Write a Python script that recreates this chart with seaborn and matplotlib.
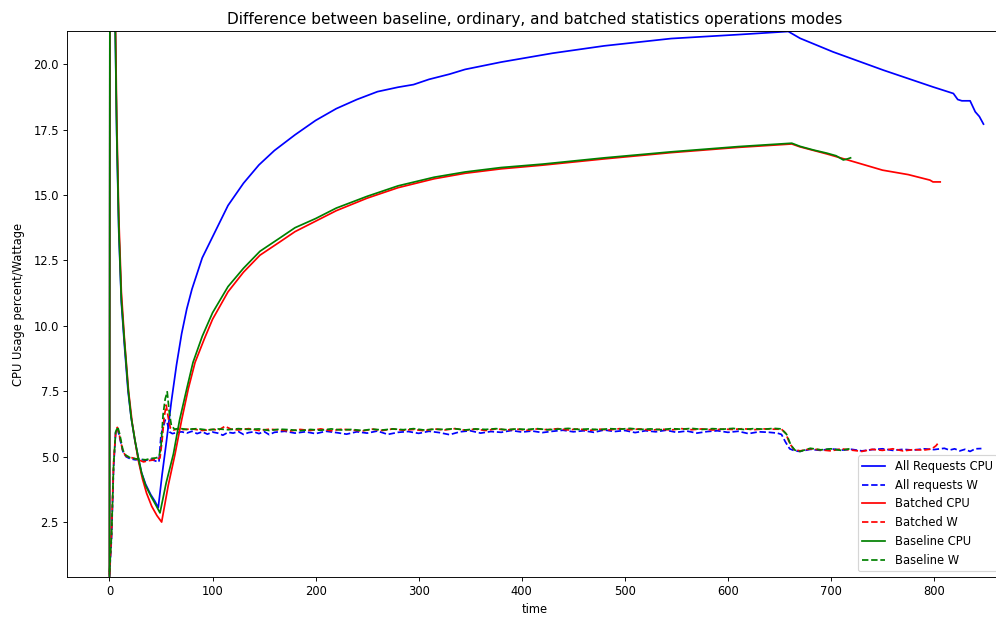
import matplotlib
matplotlib.use("Agg")
import matplotlib.pyplot as plt
import seaborn as sns

# ---- CPU series (time, value) ----
all_cpu_t = [0, 1, 3, 5, 7, 9, 11.5, 14.4, 18, 21, 24.7, 28, 31, 35, 40, 44, 47.3,
             51, 55, 60, 65, 70, 75, 80, 90, 100, 115, 130, 145, 160, 180, 200, 220, 240, 260,
             280, 295, 310, 330, 345, 380, 430, 480, 545, 610, 658.6, 670, 702, 751, 799, 818.8,
             823, 827, 835, 840, 844, 848]
all_cpu_v = [0.0, 60.0, 35.0, 23.0, 17.3, 13.6, 10.9, 9.3, 7.5, 6.5, 5.6, 4.95, 4.4, 3.95, 3.55, 3.3, 3.05,
             4.3, 5.5, 7.1, 8.5, 9.7, 10.65, 11.4, 12.6, 13.4, 14.6, 15.45, 16.15, 16.7, 17.3, 17.85, 18.3,
             18.65, 18.95, 19.12, 19.22, 19.42, 19.62, 19.8, 20.08, 20.42, 20.7, 20.98, 21.13, 21.25,
             20.99, 20.47, 19.77, 19.13, 18.88, 18.65, 18.6, 18.6, 18.18, 18.0, 17.71]

batched_cpu_t = [0, 1, 3, 5, 7, 9, 11.5, 14.5, 18.5, 22, 25, 28, 32, 36, 41, 46, 50.6,
                 57, 63.6, 70, 76.5, 83, 92, 100, 115, 130, 146, 165, 180, 200, 220, 250, 280,
                 315, 345, 380, 420, 480, 545, 610, 662, 670, 696, 718, 750, 775, 796, 799, 806]
batched_cpu_v = [0.0, 60.0, 36.0, 24.0, 18.0, 14.2, 11.3, 9.5, 7.5, 6.3, 5.55, 4.85, 4.15, 3.6, 3.1, 2.75, 2.5,
                 3.9, 5.1, 6.4, 7.6, 8.6, 9.5, 10.25, 11.3, 12.05, 12.7, 13.2, 13.6, 14.0, 14.4, 14.88, 15.28,
                 15.62, 15.83, 16.0, 16.14, 16.38, 16.62, 16.82, 16.95, 16.84, 16.57, 16.32, 15.95, 15.78,
                 15.57, 15.5, 15.5]

baseline_cpu_t = [0, 1, 3, 5, 7, 9, 11.5, 14.4, 18.2, 21, 24.7, 28, 31.2, 35, 40, 44, 49,
                  55, 62, 68, 75, 81, 90, 100, 115, 130, 146, 165, 180, 200, 220, 250, 280,
                  315, 345, 380, 420, 480, 545, 610, 662, 670, 683, 696, 705, 712, 716, 719]
baseline_cpu_v = [0.0, 60.0, 35.0, 23.0, 17.5, 13.8, 11.0, 9.45, 7.54, 6.5, 5.63, 4.95, 4.37, 3.9, 3.5, 3.22, 2.85,
                  4.0, 5.1, 6.4, 7.6, 8.6, 9.6, 10.5, 11.5, 12.2, 12.85, 13.35, 13.75, 14.1, 14.5, 14.95, 15.35,
                  15.68, 15.88, 16.05, 16.18, 16.42, 16.65, 16.85, 16.98, 16.86, 16.72, 16.6, 16.5, 16.34,
                  16.38, 16.42]

# ---- Wattage series ----
all_w_t = [0, 2, 4, 6, 8, 10, 13, 16, 20, 25, 30, 35, 40, 45, 48, 50, 52, 54, 56, 58, 61, 65,
           70, 75, 80, 85, 90, 95, 100, 105, 110, 115, 120, 125, 130, 135, 140, 145, 150, 155, 160,
           170, 180, 190, 200, 210, 220, 230, 240, 250, 260, 270, 280, 290, 300, 310, 320, 330, 340,
           350, 360, 370, 380, 390, 400, 410, 420, 430, 440, 450, 460, 470, 480, 490, 500, 510, 520,
           530, 540, 550, 560, 570, 580, 590, 600, 610, 620, 630, 640, 648, 652, 656, 660, 665, 670,
           680, 690, 700, 710, 720, 730, 740, 750, 760, 770, 780, 790, 800, 810, 815, 820, 825, 830,
           835, 840, 846]
all_w_v = [0.45, 1.9, 4.6, 5.95, 6.05, 5.7, 5.2, 5.0, 4.92, 4.88, 4.9, 4.86, 4.9, 4.83, 4.8, 5.85, 6.1,
           6.4, 6.3, 5.95, 5.88, 5.92,
           5.95, 5.9, 5.97, 5.88, 5.95, 5.86, 5.94, 5.9, 5.82, 5.93, 5.9, 5.96, 5.85, 5.92, 5.95, 5.88,
           5.96, 5.84, 5.93, 5.97, 5.9, 5.95, 5.88, 5.97, 5.92, 5.86, 5.95, 5.9, 5.98, 5.85, 5.93, 5.96,
           5.89, 5.97, 5.92, 5.84, 5.95, 5.99, 5.9, 5.96, 5.93, 6.0, 5.94, 5.98, 5.92, 5.97, 6.01, 5.95,
           5.99, 5.93, 6.02, 5.96, 6.0, 5.92, 5.99, 5.95, 6.01, 5.93, 5.98, 5.9, 5.96, 5.99, 5.93, 5.97,
           5.88, 5.95, 5.93, 5.9, 5.85, 5.55, 5.3, 5.22, 5.2, 5.28, 5.24, 5.3, 5.25, 5.28, 5.22, 5.27,
           5.3, 5.24, 5.28, 5.25, 5.3, 5.27, 5.32, 5.25, 5.3, 5.22, 5.28, 5.2, 5.3, 5.31]

batched_w_t = [0, 2, 4, 6, 7.6, 10, 13, 16, 20, 25, 30, 33, 37, 42, 46, 49, 51, 53, 55, 57, 59, 62,
               66, 70, 80, 90, 100, 106, 112, 118, 125, 135, 145, 155, 165, 175, 185, 195, 205, 215,
               225, 235, 245, 255, 265, 275, 285, 295, 305, 315, 325, 335, 345, 355, 365, 375, 385,
               395, 405, 415, 425, 435, 445, 455, 465, 475, 485, 495, 505, 515, 525, 535, 545, 555,
               565, 575, 585, 595, 605, 615, 625, 635, 645, 652, 656, 660, 664, 670, 680, 690, 700,
               710, 720, 730, 740, 750, 760, 770, 780, 790, 795, 798, 802, 805]
batched_w_v = [0.5, 2.1, 4.8, 5.9, 6.12, 5.75, 5.2, 5.02, 4.98, 4.92, 4.85, 4.8, 4.84, 4.87, 4.9, 4.95,
               5.6, 6.5, 6.97, 6.5, 6.1, 6.02,
               6.05, 6.03, 6.06, 6.0, 6.04, 6.02, 6.16, 6.05, 6.02, 6.07, 6.0, 6.05, 6.02, 5.98, 6.04,
               6.0, 6.06, 5.99, 6.05, 6.02, 5.98, 6.05, 6.0, 6.06, 6.01, 6.04, 5.99, 6.06, 6.02, 6.07,
               6.01, 6.05, 6.0, 6.06, 6.02, 6.05, 6.01, 6.06, 6.03, 6.07, 6.02, 6.06, 6.0, 6.05, 6.02,
               6.07, 6.03, 6.06, 6.01, 6.05, 6.02, 6.07, 6.03, 6.06, 6.02, 6.05, 6.04, 6.07, 6.03, 6.06,
               6.05, 6.05, 5.9, 5.5, 5.28, 5.22, 5.3, 5.26, 5.22, 5.3, 5.25, 5.2, 5.28, 5.24, 5.3, 5.22,
               5.27, 5.25, 5.28, 5.3, 5.42, 5.57]

baseline_w_t = [0, 2, 4, 6, 8, 10, 13, 16, 20, 25, 30, 35, 40, 45, 48, 50, 52, 54, 56, 58, 60, 63,
                68, 75, 85, 95, 105, 115, 125, 135, 145, 155, 165, 175, 185, 195, 205, 215, 225, 235,
                245, 255, 265, 275, 285, 295, 305, 315, 325, 335, 345, 355, 365, 375, 385, 395, 405,
                415, 425, 435, 445, 455, 465, 475, 485, 495, 505, 515, 525, 535, 545, 555, 565, 575,
                585, 595, 605, 615, 625, 635, 645, 652, 657, 661, 665, 670, 680, 690, 700, 710, 718]
baseline_w_v = [0.6, 2.0, 4.7, 5.95, 6.14, 5.85, 5.25, 5.05, 4.96, 4.92, 4.9, 4.88, 4.93, 4.95, 5.0,
                5.4, 6.6, 7.2, 7.48, 6.7, 6.2, 6.05,
                6.08, 6.04, 6.07, 6.02, 6.06, 6.03, 6.07, 6.04, 6.06, 6.0, 6.05, 6.03, 5.99, 6.04, 6.01,
                6.06, 6.02, 6.04, 6.0, 6.05, 6.02, 6.06, 6.03, 6.07, 6.02, 6.05, 6.04, 6.07, 6.02, 6.06,
                6.04, 6.07, 6.03, 6.06, 6.04, 6.07, 6.03, 6.05, 6.08, 6.04, 6.06, 6.03, 6.07, 6.05, 6.08,
                6.04, 6.06, 6.03, 6.07, 6.05, 6.08, 6.04, 6.07, 6.05, 6.08, 6.04, 6.07, 6.05, 6.08, 6.06,
                5.85, 5.45, 5.25, 5.2, 5.32, 5.26, 5.3, 5.24, 5.3]

x_ticks = [0, 100, 200, 300, 400, 500, 600, 700, 800]
y_ticks = [2.5, 5.0, 7.5, 10.0, 12.5, 15.0, 17.5, 20.0]

fig = plt.figure(figsize=(12.0, 7.434), dpi=83)
# axes run a little past the right edge, as in the (cropped) reference
ax = fig.add_axes([0.0673, 0.0648, 0.9398, 0.885])

sns.lineplot(x=all_cpu_t, y=all_cpu_v, color="blue", label="All Requests CPU", ax=ax)
sns.lineplot(x=all_w_t, y=all_w_v, color="blue", linestyle="--", label="All requests W", ax=ax)
sns.lineplot(x=batched_cpu_t, y=batched_cpu_v, color="red", label="Batched CPU", ax=ax)
sns.lineplot(x=batched_w_t, y=batched_w_v, color="red", linestyle="--", label="Batched W", ax=ax)
sns.lineplot(x=baseline_cpu_t, y=baseline_cpu_v, color="green", label="Baseline CPU", ax=ax)
sns.lineplot(x=baseline_w_t, y=baseline_w_v, color="green", linestyle="--", label="Baseline W", ax=ax)

ax.set_xlim(-41.2, 867)
ax.set_ylim(0.4, 21.27)
ax.set_xticks(x_ticks)
ax.set_yticks(y_ticks)
ax.set_xlabel("time")
ax.set_ylabel("CPU Usage percent/Wattage", labelpad=7)
ax.set_title("Difference between baseline, ordinary, and batched statistics operations modes",
             fontsize=13.2)
ax.legend(loc="lower right")

fig.savefig("out.png", dpi=83)
